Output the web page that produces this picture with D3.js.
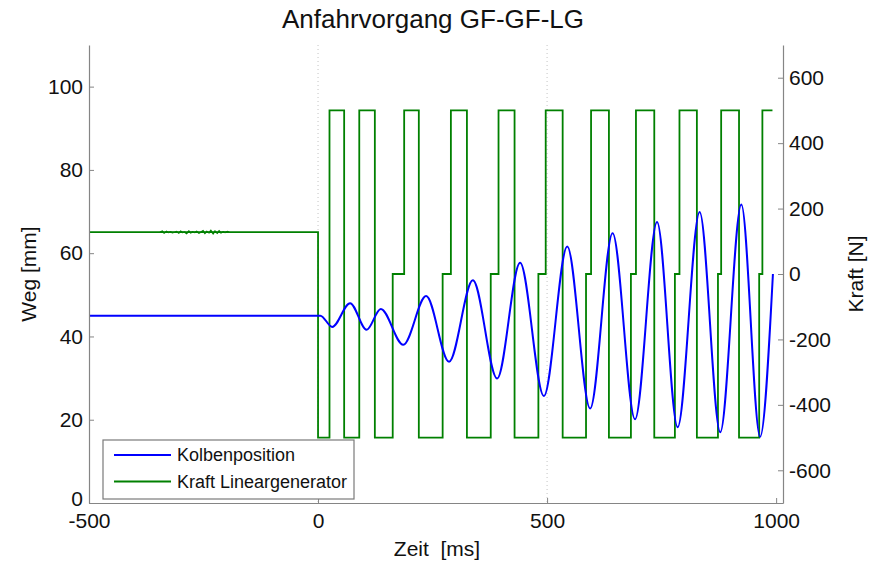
<!DOCTYPE html>
<html>
<head>
<meta charset="utf-8">
<script src="https://cdn.jsdelivr.net/npm/d3@7"></script>
<style>
  body { margin: 0; background: #fff; }
  text { font-family: "Liberation Sans", Arial, Helvetica, sans-serif; fill: #111; }
</style>
</head>
<body>
<div id="chart"></div>
<script>
//setting visual dimensions
const width = 873;
const height = 563;
const margin = { top: 45, right: 90, bottom: 60, left: 89 };

//time axis ticks and the two y axis ticks
const timeTicks = [-500, 0, 500, 1000];
const wegTicks = [0, 20, 40, 60, 80, 100];
const kraftTicks = [-600, -400, -200, 0, 200, 400, 600];

//Kolbenposition [mm], turning points
const kolbenTimes = [-500, 0, 5, 31, 70, 106, 137, 186, 236, 286, 338, 391, 441, 493, 544, 594, 643, 692, 740, 785, 833, 878, 924, 965, 993];
const kolbenValues = [45, 45, 45, 42.3, 48.0, 41.6, 46.6, 38.0, 49.7, 33.9, 53.5, 29.9, 57.7, 25.7, 61.6, 22.7, 64.8, 20.1, 67.5, 18.2, 69.9, 17.0, 71.7, 15.9, 55];

//Kraft Lineargenerator [N], switching times and levels
const kraftTimes = [-500, 0, 25, 57, 90, 124, 163, 188, 220, 272, 290, 325, 377, 394, 429, 481, 497, 534, 585, 596, 635, 683, 694, 734, 779, 789, 827, 873, 880, 919, 963, 970, 992];
const kraftValues = [128, -500, 500, -500, 500, -500, 0, 500, -500, 0, 500, -500, 0, 500, -500, 0, 500, -500, 0, 500, -500, 0, 500, -500, 0, 500, -500, 0, 500, -500, 0, 500, 500];

//small noise on the force signal before the start
const noiseTimes = [-345, -340, -336, -331, -327, -322, -318, -313, -309, -304, -300, -296, -291, -287, -282, -278, -274, -269, -265, -260, -256, -251, -247, -243, -238, -234, -229, -225, -220, -216, -212, -207, -203, -198, -194];
const noiseValues = [128, 131, 125, 130, 127, 129, 126, 128, 130, 125, 131, 127, 128, 124, 131, 126, 129, 127, 130, 125, 128, 132, 124, 130, 126, 133, 123, 131, 125, 132, 126, 129, 127, 130, 128];

const svg = d3.select("#chart")
  .append("svg")
  .attr("width", width)
  .attr("height", height);

const x = d3.scaleLinear()
  .domain([-500, 1015])
  .range([margin.left, width - margin.right]);

const yWeg = d3.scaleLinear()
  .domain([0, 110])
  .range([height - margin.bottom, margin.top]);

const yKraft = d3.scaleLinear()
  .domain([-700, 700])
  .range([height - margin.bottom, margin.top]);

//dotted vertical grid
svg.append("g")
  .selectAll("line")
  .data(timeTicks.slice(1, 3))
  .enter()
  .append("line")
  .attr("x1", d => x(d))
  .attr("x2", d => x(d))
  .attr("y1", margin.top)
  .attr("y2", height - margin.bottom)
  .attr("stroke", "#c4c4c4")
  .attr("stroke-width", 1)
  .attr("stroke-dasharray", "1,3");

//build the data for the lines
const kolbenData = kolbenTimes.map((t, i) => ({ t: t, v: kolbenValues[i] }));
const kraftData = kraftTimes.map((t, i) => ({ t: t, v: kraftValues[i] }));
const noiseData = noiseTimes.map((t, i) => ({ t: t, v: noiseValues[i] }));

const kraftLine = d3.line()
  .x(d => x(d.t))
  .y(d => yKraft(d.v))
  .curve(d3.curveStepAfter);

const noiseLine = d3.line()
  .x(d => x(d.t))
  .y(d => yKraft(d.v));

const kolbenLine = d3.line()
  .x(d => x(d.t))
  .y(d => yWeg(d.v))
  .curve(d3.curveMonotoneX);

svg.append("path")
  .datum(kraftData)
  .attr("d", kraftLine)
  .attr("fill", "none")
  .attr("stroke", "#008000")
  .attr("stroke-width", 1.8);

svg.append("path")
  .datum(noiseData)
  .attr("d", noiseLine)
  .attr("fill", "none")
  .attr("stroke", "#008000")
  .attr("stroke-width", 1.5);

svg.append("path")
  .datum(kolbenData)
  .attr("d", kolbenLine)
  .attr("fill", "none")
  .attr("stroke", "#0000ff")
  .attr("stroke-width", 2);

//axes, ticks pointing inside like matlab
const axisColor = "#858585";
const tickFont = "21px";
const plain = d => String(d);

const xAxis = svg.append("g")
  .attr("transform", `translate(0,${height - margin.bottom})`)
  .call(d3.axisBottom(x).tickValues(timeTicks).tickFormat(plain).tickSizeInner(-5).tickSizeOuter(0).tickPadding(10));

const leftAxis = svg.append("g")
  .attr("transform", `translate(${margin.left},0)`)
  .call(d3.axisLeft(yWeg).tickValues(wegTicks).tickFormat(plain).tickSizeInner(-5).tickSizeOuter(0).tickPadding(6));

const rightAxis = svg.append("g")
  .attr("transform", `translate(${width - margin.right},0)`)
  .call(d3.axisRight(yKraft).tickValues(kraftTicks).tickFormat(plain).tickSizeInner(-5).tickSizeOuter(0).tickPadding(6));

[xAxis, leftAxis, rightAxis].forEach(g => {
  g.select(".domain").attr("stroke", axisColor).attr("stroke-width", 1.2);
  g.selectAll(".tick line").attr("stroke", axisColor);
  g.selectAll(".tick text")
    .attr("font-size", tickFont)
    .attr("font-family", "Liberation Sans, Arial, sans-serif")
    .attr("fill", "#111");
});

//the 0 on the left axis sits just above the -500 label
leftAxis.selectAll(".tick text").filter(d => d === 0).attr("dy", "0.1em");

//title and axis labels
svg.append("text")
  .attr("x", 433)
  .attr("y", 28)
  .attr("text-anchor", "middle")
  .attr("font-size", "26px")
  .text("Anfahrvorgang GF-GF-LG");

svg.append("text")
  .attr("x", 437)
  .attr("y", 556)
  .attr("text-anchor", "middle")
  .attr("font-size", "21px")
  .style("white-space", "pre")
  .text("Zeit  [ms]");

svg.append("text")
  .attr("transform", `translate(36,${(margin.top + height - margin.bottom) / 2}) rotate(-90)`)
  .attr("text-anchor", "middle")
  .attr("font-size", "21px")
  .text("Weg [mm]");

svg.append("text")
  .attr("transform", `translate(863,${(margin.top + height - margin.bottom) / 2}) rotate(-90)`)
  .attr("text-anchor", "middle")
  .attr("font-size", "21px")
  .text("Kraft [N]");

//legend
const legend = svg.append("g");

legend.append("rect")
  .attr("x", 103)
  .attr("y", 440)
  .attr("width", 251)
  .attr("height", 59)
  .attr("fill", "#fff")
  .attr("stroke", "#7a7a7a")
  .attr("stroke-width", 1.2);

const legendItems = [
  { label: "Kolbenposition", color: "#0000ff" },
  { label: "Kraft Lineargenerator", color: "#008000" }
];

legendItems.forEach((d, i) => {
  const ly = 455 + i * 26.5;
  legend.append("line")
    .attr("x1", 114)
    .attr("x2", 171)
    .attr("y1", ly)
    .attr("y2", ly)
    .attr("stroke", d.color)
    .attr("stroke-width", 1.8);
  legend.append("text")
    .attr("x", 177)
    .attr("y", ly + 6)
    .attr("font-size", "18px")
    .text(d.label);
});
</script>
</body>
</html>
